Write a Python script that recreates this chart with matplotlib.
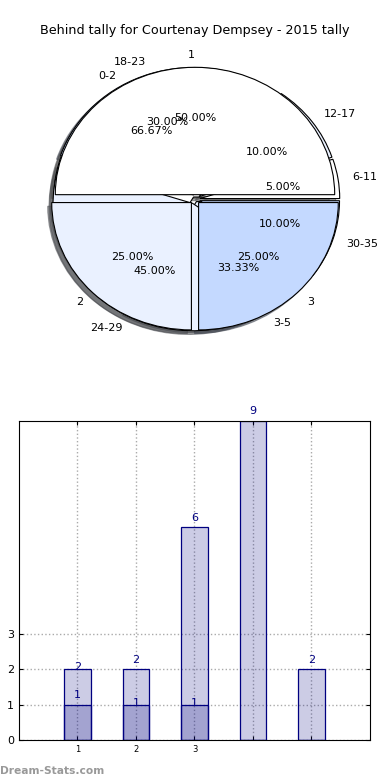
import matplotlib
matplotlib.use('Agg')
import matplotlib.pyplot as plt
import numpy as np

# pie data (three pies drawn on the same axes)
goal_labels = ['1', '2', '3']
goal_values = [2, 1, 1]
side_labels = ['0-2', '3-5']
side_values = [2, 1]
time_labels = ['6-11', '12-17', '18-23', '24-29', '30-35']
time_values = [1, 2, 6, 9, 2]

# bar data
bar_pos = [1, 2, 3, 4, 5]
tally = [2, 2, 6, 9, 2]
tally_first = [1, 1, 1, 0, 0]
xtick_labels = ['1', '2', '3', '', '']
ytick_vals = [0, 1, 2, 3]

pie_colors = ['#ffffff', '#eaf1ff', '#c4d9ff', '#eaf1ff', '#c4d9ff']

fig = plt.figure(figsize=(3.9, 7.8), dpi=100)
fig.text(0.5, 0.961, 'Behind tally for Courtenay Dempsey - 2015 tally',
         ha='center', va='center', fontsize=9.2)

# --- pie
ax1 = fig.add_axes([0.036, 0.533, 0.928, 0.423])
r = 0.965
ax1.pie(side_values, labels=side_labels, colors=pie_colors[:2], radius=r,
        explode=[0.02] * 2, autopct='%.2f%%', shadow=True,
        wedgeprops={'linewidth': 0.8, 'edgecolor': 'k'},
        textprops={'fontsize': 8})
ax1.pie(time_values, labels=time_labels, colors=pie_colors, radius=r,
        explode=[0.035] * 5, autopct='%.2f%%', shadow=True,
        wedgeprops={'linewidth': 0.8, 'edgecolor': 'k'},
        textprops={'fontsize': 8})
ax1.pie(goal_values, labels=goal_labels, colors=pie_colors[:3], radius=r,
        explode=[0.035] * 3, autopct='%.2f%%', shadow=True,
        wedgeprops={'linewidth': 0.8, 'edgecolor': 'k'},
        textprops={'fontsize': 8})
ax1.set_aspect('auto')
ax1.set_xlim(-1.25, 1.25)
ax1.set_ylim(-1.25, 1.25)

# --- bars
ax2 = fig.add_axes([0.0487, 0.0513, 0.9, 0.409])
ax2.bar(bar_pos, tally, width=0.45, color='navy', alpha=0.2)
ax2.bar(bar_pos, tally, width=0.45, fill=False, edgecolor='navy', linewidth=0.9)
ax2.bar(bar_pos, tally_first, width=0.45, color='navy', alpha=0.2)
ax2.bar(bar_pos, tally_first, width=0.45, fill=False, edgecolor='navy', linewidth=0.9)

# value labels
offs = [0.06, 0.25, 0.25, 0.27, 0.25]
for x, v, o in zip(bar_pos, tally, offs):
    ax2.text(x, v + o, str(v), ha='center', va='center', color='navy', fontsize=8)
offs1 = [0.27, 0.04, 0.04]
for x, v, o in zip(bar_pos, tally_first, offs1):
    if v > 0:
        ax2.text(x, v + o, str(v), ha='center', va='center', color='navy', fontsize=8)

ax2.set_xlim(0, 6)
ax2.set_ylim(0, 9)
ax2.set_xticks(bar_pos)
ax2.set_xticklabels(xtick_labels, fontsize=6)
ax2.set_yticks(ytick_vals)
ax2.set_yticklabels([str(v) for v in ytick_vals], fontsize=8)
ax2.tick_params(direction='in', top=True, right=True, length=3)
ax2.grid(True, linestyle=':', color='#aaaaaa', linewidth=1)
ax2.set_axisbelow(True)

fig.text(0.0, 0.012, 'Dream-Stats.com', color='#999999', fontsize=7.7,
         fontweight='bold', ha='left', va='center')

fig.savefig('out.png', dpi=100)
